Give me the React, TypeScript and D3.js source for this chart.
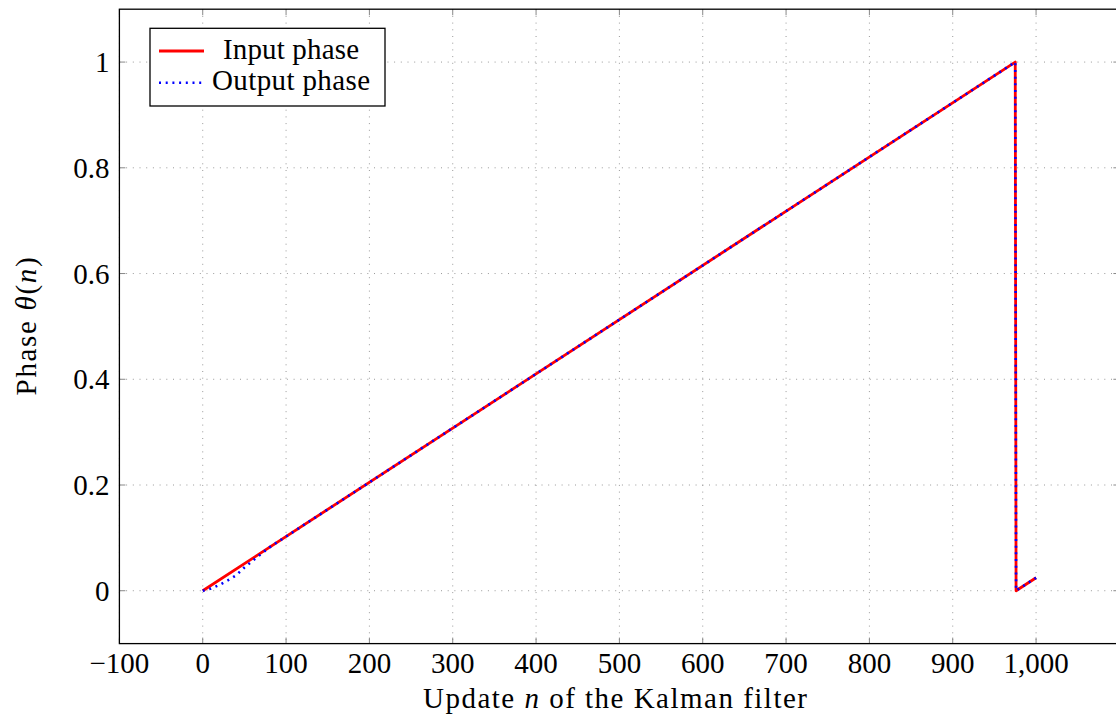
import React, { useRef, useEffect } from "react";
import * as d3 from "d3";

// Input phase (red, solid)
const inputN = [0, 975, 976, 1000];
const inputPhase = [0, 1, 0, 0.0246];

// Output phase (blue, dotted) - lags at start, then tracks the input
const outputN = [0, 10, 20, 30, 40, 50, 60, 70, 80, 975, 976, 1000];
const outputPhase = [0, 0.004, 0.011, 0.0195, 0.029, 0.044, 0.057, 0.0695, 0.082, 1, 0, 0.0246];

const xTicks = [-100, 0, 100, 200, 300, 400, 500, 600, 700, 800, 900, 1000];
const yTicks = [0, 0.2, 0.4, 0.6, 0.8, 1];

const legendLabels = ["Input phase", "Output phase"];

const FONT = "'Liberation Serif', 'Times New Roman', serif";
const FS = "29px";

const App = () => {
  const svgRef = useRef<SVGSVGElement>(null);

  useEffect(() => {
    const svg = d3.select(svgRef.current);
    svg.selectAll("*").remove();

    const left = 119.4;
    const right = 1119.4;
    const top = 9.2;
    const bottom = 643.6;

    const x = d3.scaleLinear().domain([-100, 1100]).range([left, right]);
    const y = d3.scaleLinear().domain([-0.1, 1.1]).range([bottom, top]);

    svg
      .append("defs")
      .append("clipPath")
      .attr("id", "plot-clip")
      .append("rect")
      .attr("x", left)
      .attr("y", top)
      .attr("width", right - left)
      .attr("height", bottom - top);

    // grid
    const grid = svg.append("g");
    grid
      .selectAll(".gx")
      .data(xTicks)
      .enter()
      .append("line")
      .attr("x1", (d) => x(d))
      .attr("x2", (d) => x(d))
      .attr("y1", top)
      .attr("y2", bottom)
      .attr("stroke", "#999")
      .attr("stroke-width", 1)
      .attr("stroke-dasharray", "1 5.7");
    grid
      .selectAll(".gy")
      .data(yTicks)
      .enter()
      .append("line")
      .attr("x1", left)
      .attr("x2", right)
      .attr("y1", (d) => y(d))
      .attr("y2", (d) => y(d))
      .attr("stroke", "#999")
      .attr("stroke-width", 1)
      .attr("stroke-dasharray", "1 5.7");

    // tick marks (inside, both sides)
    const tl = 6;
    const ticks = svg.append("g").attr("stroke", "#888").attr("stroke-width", 1);
    xTicks.forEach((t) => {
      ticks.append("line").attr("x1", x(t)).attr("x2", x(t)).attr("y1", bottom).attr("y2", bottom - tl);
      ticks.append("line").attr("x1", x(t)).attr("x2", x(t)).attr("y1", top).attr("y2", top + tl);
    });
    yTicks.forEach((t) => {
      ticks.append("line").attr("x1", left).attr("x2", left + tl).attr("y1", y(t)).attr("y2", y(t));
      ticks.append("line").attr("x1", right).attr("x2", right - tl).attr("y1", y(t)).attr("y2", y(t));
    });

    // lines
    const line = d3
      .line<[number, number]>()
      .x((d) => x(d[0]))
      .y((d) => y(d[1]));

    const plot = svg.append("g").attr("clip-path", "url(#plot-clip)");
    plot
      .append("path")
      .datum(inputN.map((n, i) => [n, inputPhase[i]] as [number, number]))
      .attr("d", line)
      .attr("fill", "none")
      .attr("stroke", "#ff0000")
      .attr("stroke-width", 2.8)
      .attr("stroke-linejoin", "round");
    plot
      .append("path")
      .datum(outputN.map((n, i) => [n, outputPhase[i]] as [number, number]))
      .attr("d", line)
      .attr("fill", "none")
      .attr("stroke", "#0000ff")
      .attr("stroke-width", 2.6)
      .attr("stroke-dasharray", "2 4.7");

    // frame
    svg
      .append("rect")
      .attr("x", left)
      .attr("y", top)
      .attr("width", right - left)
      .attr("height", bottom - top)
      .attr("fill", "none")
      .attr("stroke", "#000")
      .attr("stroke-width", 1.3);

    // tick labels
    svg
      .append("g")
      .selectAll("text")
      .data(xTicks)
      .enter()
      .append("text")
      .attr("x", (d) => x(d))
      .attr("y", 673)
      .attr("text-anchor", "middle")
      .style("font-family", FONT)
      .style("font-size", FS)
      .text((d) => (d < 0 ? "\u2212" + Math.abs(d) : d3.format(",")(d)));

    svg
      .append("g")
      .selectAll("text")
      .data(yTicks)
      .enter()
      .append("text")
      .attr("x", 109.5)
      .attr("y", (d) => y(d) + 10)
      .attr("text-anchor", "end")
      .style("font-family", FONT)
      .style("font-size", FS)
      .text((d) => (d === 0 || d === 1 ? String(d) : d.toFixed(1)));

    // axis labels
    const xl = svg
      .append("text")
      .attr("x", 615)
      .attr("y", 708)
      .attr("text-anchor", "middle")
      .attr("textLength", 384)
      .attr("lengthAdjust", "spacing")
      .style("font-family", FONT)
      .style("font-size", FS);
    xl.append("tspan").text("Update ");
    xl.append("tspan").style("font-style", "italic").text("n");
    xl.append("tspan").text(" of the Kalman filter");

    const yl = svg
      .append("text")
      .attr("transform", `translate(36, ${(top + bottom) / 2}) rotate(-90)`)
      .attr("text-anchor", "middle")
      .attr("textLength", 138)
      .attr("lengthAdjust", "spacing")
      .style("font-family", FONT)
      .style("font-size", FS);
    yl.append("tspan").text("Phase ");
    yl.append("tspan").style("font-style", "italic").text("θ");
    yl.append("tspan").text("(");
    yl.append("tspan").style("font-style", "italic").text("n");
    yl.append("tspan").text(")");

    // legend
    const lg = svg.append("g");
    lg.append("rect")
      .attr("x", 150)
      .attr("y", 28.3)
      .attr("width", 235)
      .attr("height", 77.7)
      .attr("fill", "#fff")
      .attr("stroke", "#000")
      .attr("stroke-width", 1.3);
    const legendStyles = [
      { color: "#ff0000", dash: null, width: 2.8, y: 51, len: 136 },
      { color: "#0000ff", dash: "2 4.7", width: 2.6, y: 82.7, len: 158 },
    ];
    legendLabels.forEach((label, i) => {
      const s = legendStyles[i];
      lg.append("line")
        .attr("x1", 159)
        .attr("x2", 204)
        .attr("y1", s.y)
        .attr("y2", s.y)
        .attr("stroke", s.color)
        .attr("stroke-width", s.width)
        .attr("stroke-dasharray", s.dash);
      lg.append("text")
        .attr("x", 291)
        .attr("y", s.y + 7.5)
        .attr("text-anchor", "middle")
        .attr("textLength", s.len)
        .attr("lengthAdjust", "spacing")
        .style("font-family", FONT)
        .style("font-size", FS)
        .text(label);
    });
  }, []);

  return (
    <svg
      ref={svgRef}
      width={1116}
      height={722}
      style={{ position: "absolute", left: 0, top: 0, background: "#fff" }}
    ></svg>
  );
};

export default App;
